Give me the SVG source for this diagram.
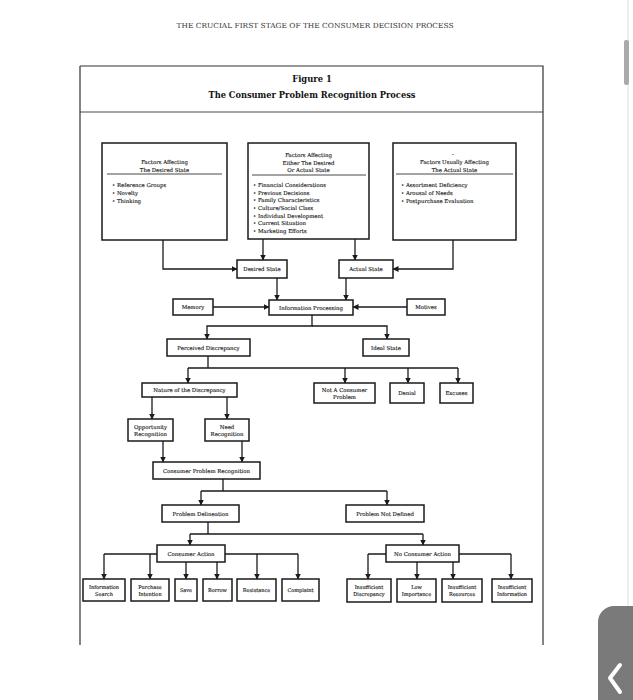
<svg xmlns="http://www.w3.org/2000/svg" width="633" height="700" viewBox="0 0 633 700">
<defs>
<marker id="ah" markerUnits="userSpaceOnUse" markerWidth="6" markerHeight="6" refX="5.5" refY="3" orient="auto">
<path d="M0,0 L6,3 L0,6 z" fill="#1a1a1a"/>
</marker>
<style>
.frame{fill:none;stroke:#333;stroke-width:1.2}
.box{fill:#fff;stroke:#1a1a1a;stroke-width:1.5}
.sep{stroke:#333;stroke-width:0.9}
.c{fill:none;stroke:#1a1a1a;stroke-width:1.3}
.a{fill:none;stroke:#1a1a1a;stroke-width:1.3;marker-end:url(#ah)}
.t{font-family:"DejaVu Serif","Liberation Serif",serif;font-size:5.4px;fill:#111;stroke:#111;stroke-width:0.12;text-anchor:middle}
.l{font-family:"DejaVu Serif","Liberation Serif",serif;font-size:5.4px;fill:#111;stroke:#111;stroke-width:0.12}
.s{font-size:5px}
.hd{font-family:"DejaVu Serif","Liberation Serif",serif;font-size:7px;fill:#333;text-anchor:middle}
.ti{font-family:"DejaVu Serif","Liberation Serif",serif;font-size:8.4px;font-weight:bold;fill:#111;text-anchor:middle}
</style>
</defs>
<rect width="633" height="700" fill="#fff"/>
<line x1="628" y1="0" x2="628" y2="700" stroke="#ddd" stroke-width="1"/>
<rect x="624" y="40" width="5" height="45" rx="2" fill="#aaa"/>
<text class="hd" x="315" y="28" textLength="277" lengthAdjust="spacingAndGlyphs">THE CRUCIAL FIRST STAGE OF THE CONSUMER DECISION PROCESS</text>

<g id="frame">
<path class="frame" d="M80,66 H543 V645 M80,66 V645"/>
<line class="sep" x1="80" y1="112" x2="543" y2="112"/>
<text class="ti" x="312" y="82">Figure 1</text>
<text class="ti" x="312" y="98" textLength="207" lengthAdjust="spacingAndGlyphs">The Consumer Problem Recognition Process</text>
</g>

<g id="connectors">
<path class="a" d="M163,240 V269 H237"/>
<path class="a" d="M263,239 V260"/>
<path class="a" d="M355,239 V260"/>
<path class="a" d="M453,240 V269 H393"/>
<path class="a" d="M277,278 V300"/>
<path class="a" d="M346,278 V300"/>
<path class="a" d="M213,307 H269"/>
<path class="a" d="M407,307 H353"/>
<path class="a" d="M312,315 V326 H207 V339"/>
<path class="a" d="M312,326 H387 V339"/>
<path class="c" d="M208,356 V368 M188,368 H458"/>
<path class="a" d="M188,368 V383"/>
<path class="a" d="M345,368 V383"/>
<path class="a" d="M408,368 V383"/>
<path class="a" d="M458,368 V383"/>
<path class="a" d="M152,397 V419"/>
<path class="a" d="M227,397 V419"/>
<path class="a" d="M163,441 V462"/>
<path class="a" d="M242,441 V462"/>
<path class="c" d="M223,479 V491 M201,491 H387"/>
<path class="a" d="M201,491 V505"/>
<path class="a" d="M387,491 V505"/>
<path class="c" d="M208,522 V534 M190,534 H423"/>
<path class="a" d="M190,534 V545"/>
<path class="a" d="M423,534 V545"/>
<path class="c" d="M104,554 H298"/>
<path class="a" d="M104,554 V579"/>
<path class="a" d="M150,554 V579"/>
<path class="a" d="M186,562 V579"/>
<path class="a" d="M217,562 V579"/>
<path class="a" d="M257,554 V579"/>
<path class="a" d="M298,554 V579"/>
<path class="c" d="M368,554 H511"/>
<path class="a" d="M368,554 V579"/>
<path class="a" d="M417,562 V579"/>
<path class="a" d="M453,562 V579"/>
<path class="a" d="M511,554 V579"/>
</g>

<g id="desired-factors">
<rect class="box" x="102" y="143" width="125" height="97"/>
<text class="t" x="164.5" y="164">Factors Affecting</text>
<text class="t" x="164.5" y="172">The Desired State</text>
<line class="sep" x1="107" y1="174" x2="222" y2="174"/>
<text class="l" x="112" y="187">• Reference Groups</text>
<text class="l" x="112" y="195">• Novelty</text>
<text class="l" x="112" y="203">• Thinking</text>
</g>

<g id="either-factors">
<rect class="box" x="248" y="143" width="121" height="96"/>
<text class="t" x="308.5" y="157">Factors Affecting</text>
<text class="t" x="308.5" y="164.5">Either The Desired</text>
<text class="t" x="308.5" y="172">Or Actual State</text>
<line class="sep" x1="252" y1="175" x2="366" y2="175"/>
<text class="l" x="253" y="187">• Financial Considerations</text>
<text class="l" x="253" y="194.7">• Previous Decisions</text>
<text class="l" x="253" y="202.4">• Family Characteristics</text>
<text class="l" x="253" y="210">• Culture/Social Class</text>
<text class="l" x="253" y="217.7">• Individual Development</text>
<text class="l" x="253" y="225.4">• Current Situation</text>
<text class="l" x="253" y="233">• Marketing Efforts</text>
</g>

<g id="actual-factors">
<rect class="box" x="393" y="143" width="123" height="97"/>
<text class="t" x="453" y="156">-</text>
<text class="t" x="454.5" y="164">Factors Usually Affecting</text>
<text class="t" x="454.5" y="172">The Actual State</text>
<line class="sep" x1="396" y1="174" x2="513" y2="174"/>
<text class="l" x="401" y="187">• Assortment Deficiency</text>
<text class="l" x="401" y="195">• Arousal of Needs</text>
<text class="l" x="401" y="203">• Postpurchase Evaluation</text>
</g>

<g id="desired-state"><rect class="box" x="237" y="260" width="50" height="18"/><text class="t" x="262" y="271">Desired State</text></g>
<g id="actual-state"><rect class="box" x="339" y="260" width="54" height="18"/><text class="t" x="366" y="271">Actual State</text></g>
<g id="memory"><rect class="box" x="173" y="299" width="40" height="16"/><text class="t" x="193" y="309">Memory</text></g>
<g id="information-processing"><rect class="box" x="269" y="300" width="84" height="15"/><text class="t" x="311" y="309.5">Information Processing</text></g>
<g id="motives"><rect class="box" x="407" y="299" width="38" height="16"/><text class="t" x="426" y="309">Motives</text></g>
<g id="perceived-discrepancy"><rect class="box" x="167" y="339" width="83" height="17"/><text class="t" x="208.5" y="349.5">Perceived Discrepancy</text></g>
<g id="ideal-state"><rect class="box" x="363" y="339" width="46" height="17"/><text class="t" x="386" y="349.5">Ideal State</text></g>
<g id="nature"><rect class="box" x="142" y="383" width="95" height="14"/><text class="t" x="189.5" y="392">Nature of the Discrepancy</text></g>
<g id="not-consumer-problem"><rect class="box" x="314" y="383" width="61" height="20"/><text class="t" x="344.5" y="391.5">Not A Consumer</text><text class="t" x="344.5" y="398.5">Problem</text></g>
<g id="denial"><rect class="box" x="390" y="383" width="34" height="20"/><text class="t" x="407" y="395">Denial</text></g>
<g id="excuses"><rect class="box" x="440" y="383" width="33" height="20"/><text class="t" x="456.5" y="395">Excuses</text></g>
<g id="opportunity"><rect class="box" x="128" y="419" width="45" height="22"/><text class="t" x="150.5" y="428.5">Opportunity</text><text class="t" x="150.5" y="435.5">Recognition</text></g>
<g id="need"><rect class="box" x="205" y="419" width="44" height="22"/><text class="t" x="227" y="428.5">Need</text><text class="t" x="227" y="435.5">Recognition</text></g>
<g id="cpr"><rect class="box" x="153" y="462" width="107" height="17"/><text class="t" x="206.5" y="472.5">Consumer Problem Recognition</text></g>
<g id="problem-delineation"><rect class="box" x="162" y="505" width="77" height="17"/><text class="t" x="200.5" y="515.5">Problem Delineation</text></g>
<g id="problem-not-defined"><rect class="box" x="346" y="505" width="78" height="17"/><text class="t" x="385" y="515.5">Problem Not Defined</text></g>
<g id="consumer-action"><rect class="box" x="157" y="545" width="68" height="17"/><text class="t" x="191" y="555.5">Consumer Action</text></g>
<g id="no-consumer-action"><rect class="box" x="386" y="545" width="73" height="17"/><text class="t" x="422.5" y="555.5">No Consumer Action</text></g>

<g id="information-search"><rect class="box" x="83" y="579" width="42" height="22"/><text class="t s" x="104" y="588.5">Information</text><text class="t s" x="104" y="595.5">Search</text></g>
<g id="purchase-intention"><rect class="box" x="131" y="579" width="38" height="22"/><text class="t s" x="150" y="588.5">Purchase</text><text class="t s" x="150" y="595.5">Intention</text></g>
<g id="save"><rect class="box" x="175" y="579" width="22" height="22"/><text class="t s" x="186" y="592">Save</text></g>
<g id="borrow"><rect class="box" x="203" y="579" width="29" height="22"/><text class="t s" x="217.5" y="592">Borrow</text></g>
<g id="resistance"><rect class="box" x="237" y="579" width="39" height="22"/><text class="t s" x="256.5" y="592">Resistance</text></g>
<g id="complaint"><rect class="box" x="282" y="579" width="37" height="22"/><text class="t s" x="300.5" y="592">Complaint</text></g>
<g id="insufficient-discrepancy"><rect class="box" x="347" y="579" width="44" height="23"/><text class="t s" x="369" y="589">Insufficient</text><text class="t s" x="369" y="596">Discrepancy</text></g>
<g id="low-importance"><rect class="box" x="397" y="579" width="39" height="23"/><text class="t s" x="416.5" y="589">Low</text><text class="t s" x="416.5" y="596">Importance</text></g>
<g id="insufficient-resources"><rect class="box" x="442" y="579" width="40" height="23"/><text class="t s" x="462" y="589">Insufficient</text><text class="t s" x="462" y="596">Resources</text></g>
<g id="insufficient-information"><rect class="box" x="492" y="579" width="40" height="23"/><text class="t s" x="512" y="589">Insufficient</text><text class="t s" x="512" y="596">Information</text></g>

<g id="nav-tab">
<rect x="598" y="606" width="50" height="110" rx="16" fill="#7a7a7a"/>
<path d="M620,665 L610,678 L620,692" fill="none" stroke="#fff" stroke-width="4" stroke-linecap="round" stroke-linejoin="round"/>
</g>
</svg>
